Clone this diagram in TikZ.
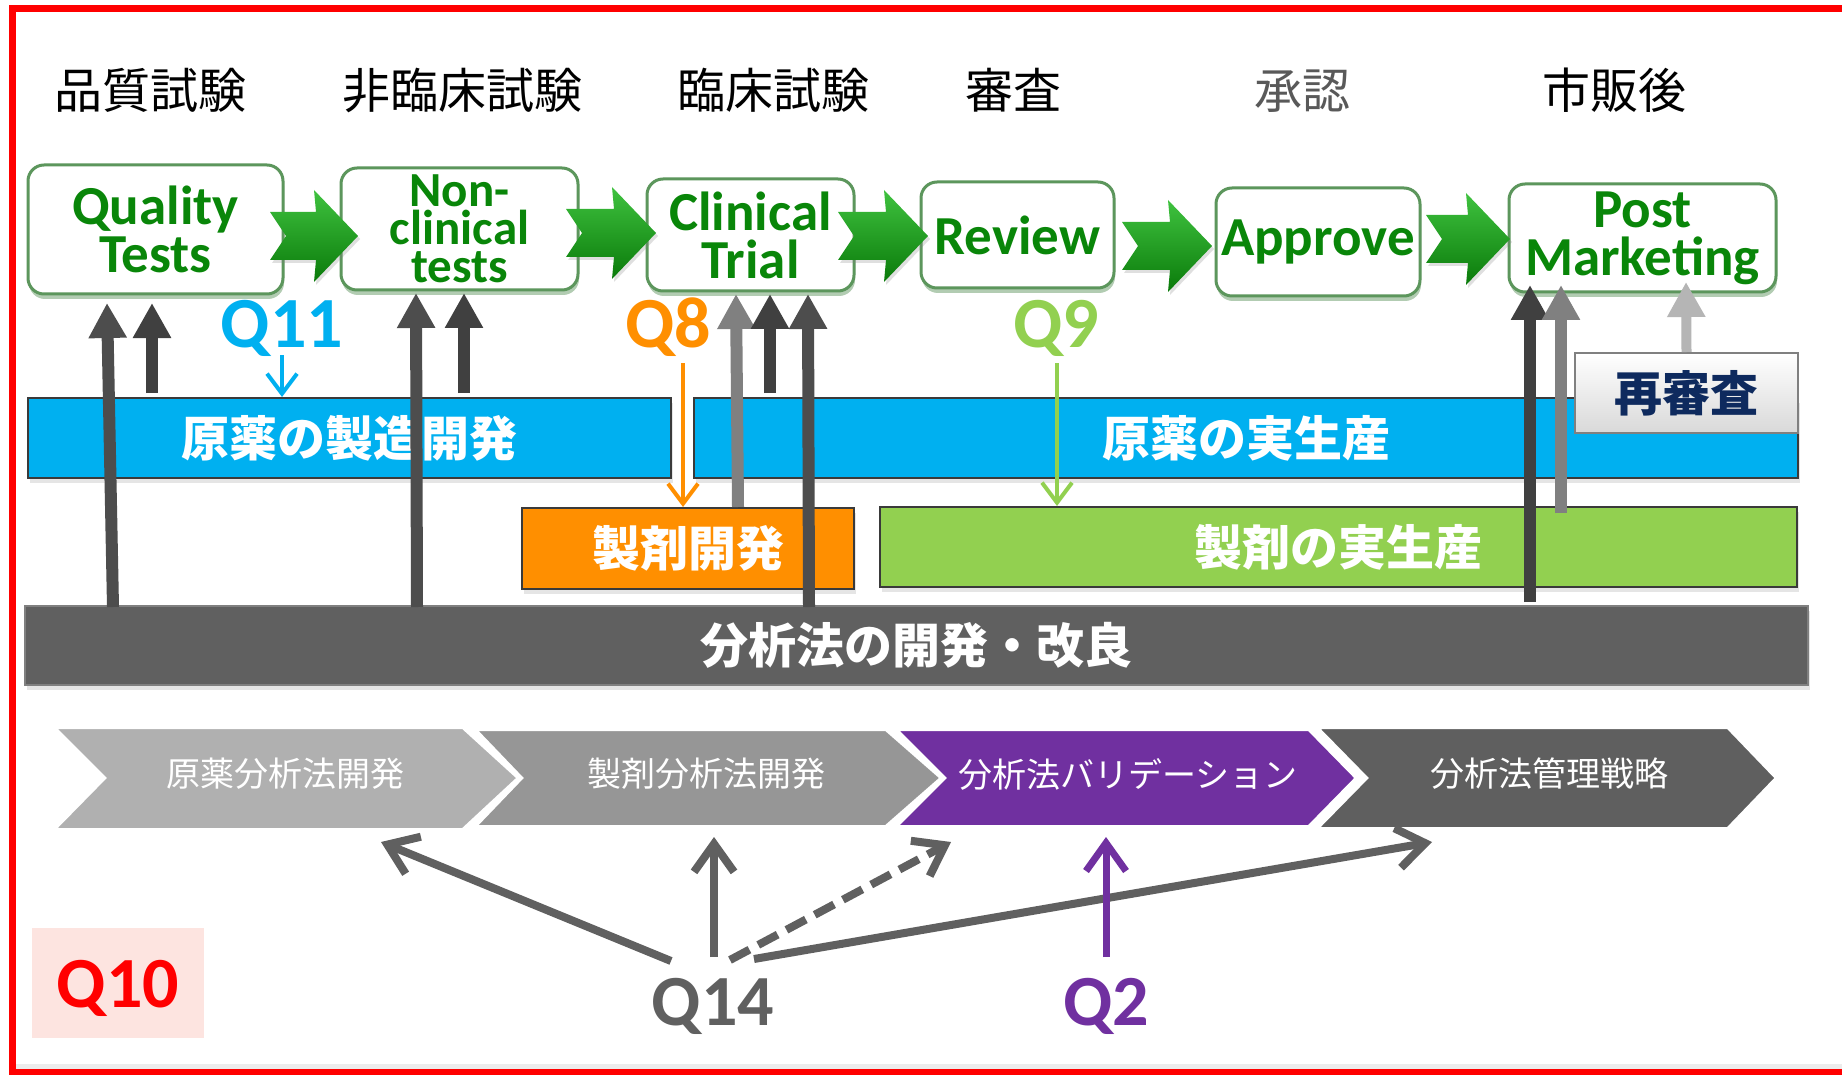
\documentclass[tikz,border=0pt]{standalone}
\usepackage{fontspec}
\setmainfont{Carlito}
\newfontfamily\jp{Noto Sans CJK JP}
\usetikzlibrary{arrows.meta,shadows}
\definecolor{boxgreen}{HTML}{5C965C}
\definecolor{boxshadow}{HTML}{B2CCB2}
\definecolor{txtgreen}{HTML}{098609}
\definecolor{garrowlight}{HTML}{3FC23F}
\definecolor{garrowdark}{HTML}{0A7A0A}
\definecolor{cyanbar}{HTML}{00B0F0}
\definecolor{orangebar}{HTML}{FF8F00}
\definecolor{lgreenbar}{HTML}{92D050}
\definecolor{anabar}{HTML}{606060}
\definecolor{bardraw}{HTML}{3A3A3A}
\definecolor{q14gray}{HTML}{606060}
\definecolor{vpurple}{HTML}{7030A0}
\definecolor{navy}{HTML}{0E2A5E}
\definecolor{pinkbg}{HTML}{FDE4E0}
\definecolor{chevA}{HTML}{B0B0B0}
\definecolor{chevB}{HTML}{969696}
\definecolor{chevD}{HTML}{5F5F5F}
\definecolor{arrdark}{HTML}{404040}
\definecolor{arrmid}{HTML}{4D4D4D}
\definecolor{arrlight}{HTML}{808080}
\definecolor{arrpale}{HTML}{B5B5B5}
\definecolor{approvegray}{HTML}{595959}
\begin{document}
\begin{tikzpicture}[x=1pt,y=-1pt,
  head/.style={font=\jp\fontsize{48}{48}\selectfont, inner sep=0pt, anchor=base},
  pbox/.style={draw=boxgreen, line width=3pt, rounded corners=16pt, fill=white,
    text=txtgreen, font=\bfseries\fontsize{55}{48}\selectfont, align=center, inner sep=0pt,
    drop shadow={shadow xshift=1pt, shadow yshift=-5pt, fill=boxshadow, opacity=1}},
  garrow/.style={top color=garrowlight, bottom color=garrowdark,
    drop shadow={shadow xshift=2pt, shadow yshift=-3pt, opacity=0.25}},
  bar/.style={draw=bardraw, line width=2pt, text=white, inner sep=0pt,
    font=\jp\bfseries\fontsize{48}{48}\selectfont,
    drop shadow={shadow xshift=2pt, shadow yshift=-5pt, opacity=0.2}},
  chev/.style={draw=white, line width=4pt},
  chevtext/.style={text=white, font=\jp\fontsize{34}{34}\selectfont, inner sep=0pt},
  qlab/.style={font=\bfseries\fontsize{72}{72}\selectfont, inner sep=0pt, anchor=base},
  garr/.style={line width=12pt, -{Triangle[length=35pt,width=36pt]}},
  qarr/.style={line width=4pt, -{Straight Barb[length=20pt,width=30pt]}},
  bigarr/.style={line width=8pt, -{Straight Barb[length=28pt,width=40pt]}}
]
\useasboundingbox (0,0) rectangle (1842,1075);
\clip (0,0) rectangle (1842,1075);
\fill[white] (0,0) rectangle (1842,1075);
% slide shadow and red frame (right side lies outside the picture)
\fill[gray!15] (12,1064) rectangle (1842,1071);
\fill[red] (1842,5) rectangle (9,12);
\fill[red] (9,5) rectangle (16,1075);
\fill[red] (9,1069) rectangle (1842,1075);

% headings
\node[head] (h1) at (150,109) {品質試験};
\node[head] (h2) at (462,109) {非臨床試験};
\node[head] (h3) at (773,109) {臨床試験};
\node[head] (h4) at (1013,109) {審査};
\node[head, text=approvegray] (h5) at (1302,109) {承認};
\node[head] (h6) at (1614,109) {市販後};

% process boxes
\node[pbox, minimum width=255pt, minimum height=129pt] (qt) at (155.5,229.5) {Quality\\Tests};
\node[pbox, minimum width=237pt, minimum height=122pt, font=\bfseries\fontsize{49}{38}\selectfont] (nc) at (459.5,229) {Non-\\clinical\\tests};
\node[pbox, minimum width=207pt, minimum height=112pt] (ct) at (750.5,235) {Clinical\\Trial};
\node[pbox, minimum width=193pt, minimum height=106pt] (rv) at (1017.5,235) {Review};
\node[pbox, minimum width=204pt, minimum height=108pt] (ap) at (1318,242) {Approve};
\node[pbox, minimum width=267pt, minimum height=108pt] (pm) at (1642.5,238) {Post\\Marketing};

% green block arrows (notched tail)
\foreach \a/\b/\c in {270/236/358, 566/233/656, 838/236/928, 1122/246/1212, 1426/239/1510}
  \path[garrow] (\a,\b-24) -- (\c-42,\b-24) -- (\c-44,\b-46) -- (\c,\b) -- (\c-44,\b+46) -- (\c-42,\b+24) -- (\a,\b+24) -- (\a+16,\b) -- cycle;

% bars
\node[bar, fill=cyanbar, minimum width=643pt, minimum height=80pt] (b1) at (349.5,438) {原薬の製造開発};
\node[bar, fill=cyanbar, minimum width=1104pt, minimum height=80pt] (b2) at (1246,438) {原薬の実生産};
\node[bar, fill=orangebar, minimum width=332pt, minimum height=81pt] (b3) at (688,548.5) {製剤開発};
\node[bar, fill=lgreenbar, minimum width=917pt, minimum height=80pt] (b4) at (1338.5,547) {製剤の実生産};
\node[bar, fill=anabar, draw=gray, minimum width=1783pt, minimum height=79pt] (b5) at (916.5,645.5) {分析法の開発・改良};
\node[draw=gray, line width=2pt, top color=white, bottom color=gray!30, inner sep=0pt,
  minimum width=223pt, minimum height=80pt, text=navy,
  font=\jp\bfseries\fontsize{48}{48}\selectfont] (rs) at (1686.5,393) {再審査};

% gray vertical arrows
\draw[garr, arrmid] (113,607) -- (107,303);
\draw[garr, arrdark] (152,393) -- (152,303);
\draw[garr, arrmid] (417,607) -- (416,293);
\draw[garr, arrdark] (464,393) -- (464,293);
\draw[garr, arrlight] (738,507) -- (736,294);
\draw[garr, arrdark] (770,393) -- (770,294);
\draw[garr, arrmid] (809,607) -- (808,294);
\draw[garr, arrdark] (1530,602) -- (1530,285);
\draw[garr, arrlight] (1561,513) -- (1561,285);
\draw[garr, arrpale, line width=10pt] (rs.north) -- (1686,282);

% Q labels (upper)
\node[qlab, text=cyanbar] (q11) at (282,348) {Q11};
\node[qlab, text=orangebar] (q8) at (668,348) {Q8};
\node[qlab, text=lgreenbar] (q9) at (1056,348) {Q9};
\draw[qarr, cyanbar] (282,355) -- (b1.north -| 282,0);
\draw[qarr, orangebar] (683,363) -- (b3.north -| 683,0);
\draw[qarr, lgreenbar] (1057,363) -- (b4.north -| 1057,0);

% chevrons
\path[chev, fill=chevA] (53,727) -- (463,727) -- (519,778) -- (463,830) -- (53,830) -- (104,778) -- cycle;
\path[chev, fill=chevB] (474,729) -- (886,729) -- (942,778) -- (886,827) -- (474,827) -- (521,778) -- cycle;
\path[chev, fill=vpurple] (895,729) -- (1309,729) -- (1357,778) -- (1309,827) -- (895,827) -- (944,778) -- cycle;
\path[chev, fill=chevD] (1316,727) -- (1728,727) -- (1777,778) -- (1728,829) -- (1316,829) -- (1366,778) -- cycle;
\node[chevtext] (c1) at (285,774) {原薬分析法開発};
\node[chevtext] (c2) at (706,774) {製剤分析法開発};
\node[chevtext] (c3) at (1128,774) {分析法バリデーション};
\node[chevtext] (c4) at (1549,774) {分析法管理戦略};

% bottom labels
\node[fill=pinkbg, minimum width=172pt, minimum height=110pt, inner sep=0pt] (q10box) at (118,983) {};
\node[qlab, text=red] (q10) at (118,1007) {Q10};
\node[qlab, text=q14gray] (q14) at (713,1025) {Q14};
\node[qlab, text=vpurple] (q2) at (1106,1025) {Q2};

\draw[bigarr, q14gray] (671,961) -- (381,842);
\draw[bigarr, q14gray] (714,957) -- (714,837);
\draw[bigarr, q14gray, dashed, dash pattern=on 22pt off 10pt] (730,960) -- (951,842);
\draw[bigarr, q14gray] (754,959) -- (1432,842);
\draw[bigarr, vpurple, line width=7pt] (1106,957) -- (1106,837);
\end{tikzpicture}
\end{document}
